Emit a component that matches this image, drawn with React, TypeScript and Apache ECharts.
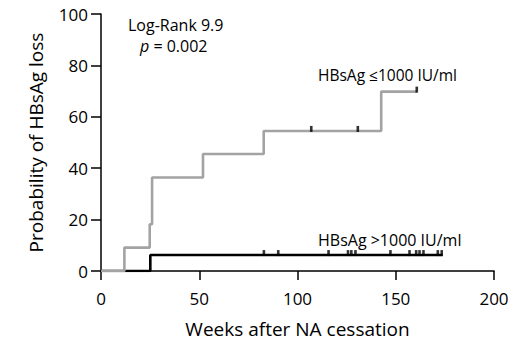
import React, { useEffect, useRef } from "react";
import * as echarts from "echarts";

const xTicks = [0, 50, 100, 150, 200];
const yTicks = [0, 20, 40, 60, 80, 100];

// HBsAg <=1000 IU/ml: KM step points [week, probability %]
const lowSteps: [number, number][] = [
  [0, 0],
  [11.9, 9.1],
  [24.8, 18.2],
  [26.0, 36.4],
  [51.9, 45.5],
  [82.8, 54.5],
  [142.6, 69.8],
  [160.7, 69.8],
];
const lowCensored: [number, number][] = [
  [107.0, 54.5],
  [130.7, 54.5],
  [160.7, 69.8],
];

// HBsAg >1000 IU/ml
const highSteps: [number, number][] = [
  [0, 0],
  [25.1, 6.2],
  [173.8, 6.2],
];
const highCensoredWeeks = [
  82.9, 90.2, 115.8, 125.7, 127.4, 129.5, 147.3, 157.0, 160.4, 162.1, 164.1,
  171.4, 173.4,
];
const highLevel = 6.2;

const FONT = "'Open Sans', 'Noto Sans', sans-serif";

export default function App() {
  const ref = useRef<HTMLDivElement>(null);
  useEffect(() => {
    document.body.style.margin = "0";
    if (!ref.current) return;
    const chart = echarts.init(ref.current, null, { renderer: "svg" });
    chart.setOption({
      animation: false,
      backgroundColor: "#ffffff",
      grid: { left: 101, right: 31, top: 14, bottom: 68 },
      xAxis: {
        type: "value",
        min: xTicks[0],
        max: xTicks[xTicks.length - 1],
        interval: 50,
        name: "Weeks after NA cessation",
        nameLocation: "middle",
        nameGap: 48,
        nameTextStyle: { fontFamily: FONT, fontSize: 19, color: "#000" },
        axisLine: { lineStyle: { color: "#000", width: 1.5 } },
        axisTick: { show: true, length: 9, lineStyle: { color: "#000", width: 1.5 } },
        axisLabel: { fontFamily: FONT, fontSize: 17, color: "#000", margin: 19 },
        splitLine: { show: false },
      },
      yAxis: {
        type: "value",
        min: yTicks[0],
        max: yTicks[yTicks.length - 1],
        interval: 20,
        name: "Probability of HBsAg loss",
        nameLocation: "middle",
        nameGap: 56,
        nameTextStyle: { fontFamily: FONT, fontSize: 19, color: "#000" },
        axisLine: { show: true, lineStyle: { color: "#000", width: 1.5 } },
        axisTick: { show: true, length: 10, lineStyle: { color: "#000", width: 1.5 } },
        axisLabel: { fontFamily: FONT, fontSize: 17, color: "#000", margin: 13 },
        splitLine: { show: false },
      },
      series: [
        {
          type: "line",
          step: "end",
          data: highSteps,
          showSymbol: false,
          lineStyle: { color: "#000", width: 2.6 },
          z: 3,
        },
        {
          type: "line",
          step: "end",
          data: lowSteps,
          showSymbol: false,
          lineStyle: { color: "#a3a3a3", width: 2.6 },
          z: 4,
        },
        {
          type: "scatter",
          data: lowCensored,
          symbol: "rect",
          symbolSize: [2.6, 6],
          symbolOffset: [0, -2],
          itemStyle: { color: "#000" },
          z: 5,
        },
        {
          type: "scatter",
          data: highCensoredWeeks.map((w) => [w, highLevel]),
          symbol: "rect",
          symbolSize: [2.6, 6],
          symbolOffset: [0, -2],
          itemStyle: { color: "#000" },
          z: 5,
        },
      ],
      graphic: [
        {
          type: "text",
          x: 128,
          y: 25,
          style: {
            text: "Log-Rank 9.9",
            font: `16px ${FONT}`,
            fill: "#000",
            align: "left",
            verticalAlign: "middle",
          },
        },
        {
          type: "text",
          x: 140,
          y: 46,
          style: {
            text: "{i|p} = 0.002",
            font: `16px ${FONT}`,
            fill: "#000",
            align: "left",
            verticalAlign: "middle",
            rich: { i: { fontStyle: "italic", fontFamily: FONT, fontSize: 16 } },
          },
        },
        {
          type: "text",
          x: 318,
          y: 75,
          style: {
            text: "HBsAg \u22641000 IU/ml",
            font: `15.5px ${FONT}`,
            fill: "#000",
            align: "left",
            verticalAlign: "middle",
          },
        },
        {
          type: "text",
          x: 318,
          y: 240,
          style: {
            text: "HBsAg >1000 IU/ml",
            font: `16px ${FONT}`,
            fill: "#000",
            align: "left",
            verticalAlign: "middle",
          },
        },
      ],
    });
    return () => chart.dispose();
  }, []);
  return <div ref={ref} style={{ width: 525, height: 343 }} />;
}
